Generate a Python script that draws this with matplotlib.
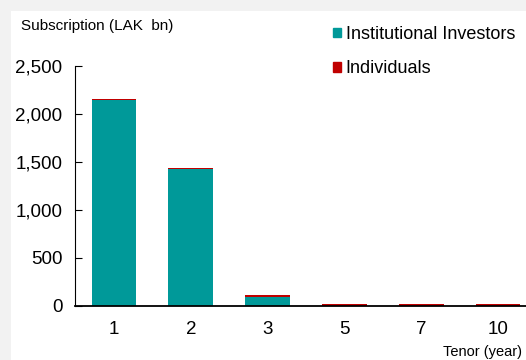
import matplotlib
matplotlib.use("Agg")
import matplotlib.pyplot as plt
from matplotlib.patches import Patch, Rectangle

tenors = ['1', '2', '3', '5', '7', '10']
institutional = [2145, 1425, 95, 0, 0, 0]
individuals = [15, 15, 20, 18, 18, 18]

teal = '#009999'
red = '#C00000'

plt.rcParams['font.family'] = ['Liberation Sans', 'DejaVu Sans']

fig = plt.figure(figsize=(5.26, 3.6), dpi=100, facecolor='#f2f2f2')
# white panel inside the grey frame
fig.patches.append(Rectangle((11 / 526, 0), 1 - 11 / 526, 1 - 11 / 360,
                             transform=fig.transFigure, facecolor='white',
                             edgecolor='none', zorder=-10))

ax = fig.add_axes([75 / 526, 1 - 306 / 360, 1 - 75 / 526, 240 / 360])
ax.set_facecolor('none')

x = range(len(tenors))
ax.bar(x, institutional, width=0.585, color=teal)
ax.bar(x, individuals, width=0.585, bottom=institutional, color=red)

ax.set_ylim(0, 2500)
ax.set_xlim(-0.508, 5.365)
ax.set_yticks([0, 500, 1000, 1500, 2000, 2500])
ax.set_yticklabels(['0', '500', '1,000', '1,500', '2,000', '2,500'])
ax.set_xticks(list(x))
ax.set_xticklabels(tenors)

ax.spines['top'].set_visible(False)
ax.spines['right'].set_visible(False)
ax.spines['left'].set_color('black')
ax.spines['bottom'].set_color('black')
ax.spines['bottom'].set_linewidth(1.3)
ax.tick_params(axis='y', direction='in', length=5, pad=9, labelsize=13.5)
ax.tick_params(axis='x', length=0, pad=11, labelsize=13.5)

fig.text(21 / 526, 1 - 26 / 360, 'Subscription (LAK  bn)', fontsize=11,
         va='center', ha='left')
fig.text(522 / 526, 1 - 352 / 360, 'Tenor (year)', fontsize=10.5,
         va='center', ha='right')

handles = [Patch(color=teal, label='Institutional Investors'),
           Patch(color=red, label='Individuals')]
fig.legend(handles=handles, loc='upper left',
           bbox_to_anchor=(333 / 526, 1 - 26 / 360), frameon=False,
           fontsize=13, handlelength=0.45, handleheight=0.45,
           handletextpad=0.25, labelspacing=0.95, borderaxespad=0,
           borderpad=0)

fig.savefig('out.png', dpi=100, facecolor=fig.get_facecolor())
